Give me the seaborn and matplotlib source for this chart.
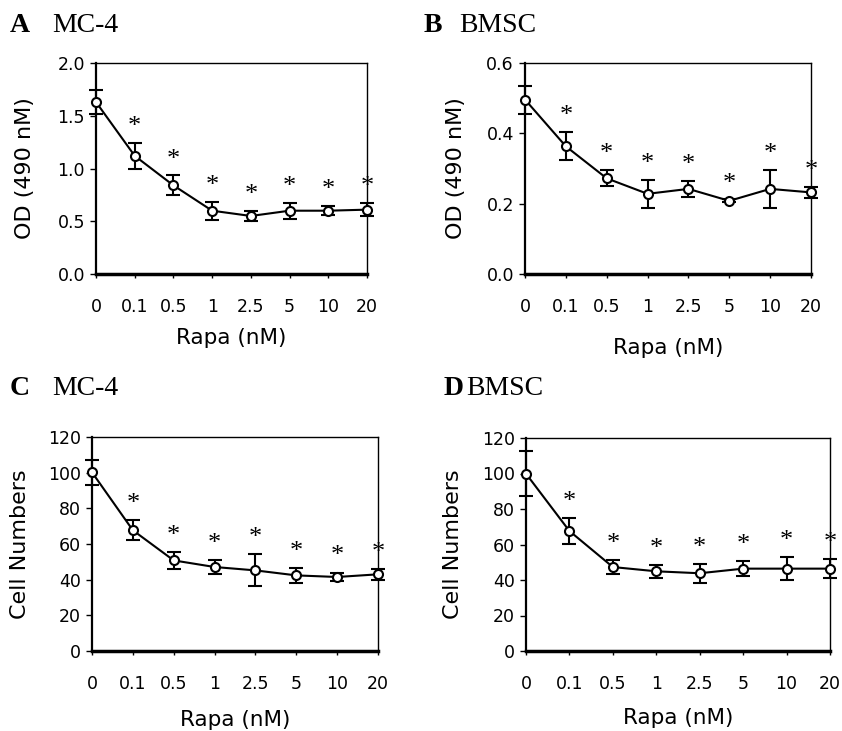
import numpy as np
import matplotlib
matplotlib.use("Agg")
import matplotlib.pyplot as plt
import seaborn as sns

# dose labels (categorical x axis)
doses = ["0", "0.1", "0.5", "1", "2.5", "5", "10", "20"]

# A: MC-4 OD
mc4_od = [1.63, 1.12, 0.84, 0.60, 0.55, 0.60, 0.60, 0.61]
mc4_od_err = [0.11, 0.125, 0.095, 0.085, 0.05, 0.075, 0.045, 0.06]
# B: BMSC OD
bmsc_od = [0.496, 0.363, 0.272, 0.228, 0.242, 0.208, 0.242, 0.232]
bmsc_od_err = [0.04, 0.04, 0.023, 0.039, 0.022, 0.004, 0.053, 0.015]
# C: MC-4 cell numbers
mc4_cells = [100.2, 67.7, 50.8, 47.1, 45.2, 42.4, 41.5, 43.0]
mc4_cells_err = [7.0, 5.6, 4.7, 4.0, 9.0, 4.3, 2.5, 3.2]
# D: BMSC cell numbers
bmsc_cells = [99.9, 67.6, 47.3, 44.9, 43.8, 46.4, 46.4, 46.4]
bmsc_cells_err = [12.8, 7.1, 4.2, 3.6, 5.4, 4.3, 6.4, 5.4]

sns.set_style("white")
plt.rcParams["font.family"] = ["DejaVu Sans"]
plt.rcParams.update({"text.color": "black", "axes.labelcolor": "black",
                     "xtick.color": "black", "ytick.color": "black"})

W, H = 842, 731
fig = plt.figure(figsize=(W / 100, H / 100), dpi=100)


def make_ax(l, r, t, b):
    return fig.add_axes([l / W, 1 - b / H, (r - l) / W, (b - t) / H])


# letter, name, data, err, ymax, ystep, fmt, ylabel, axes box (px),
# title pos (px), title gap, ylabel x (px), xlabel y (px)
panels = [
    ("A", "MC-4", mc4_od, mc4_od_err, 2.0, 0.5, "{:.1f}", "OD (490 nM)",
     (96, 367, 63, 274), (10, 25), 42, 25, 338),
    ("B", "BMSC", bmsc_od, bmsc_od_err, 0.6, 0.2, "{:.1f}", "OD (490 nM)",
     (525, 811, 63, 274), (424, 25), 35, 456, 348),
    ("C", "MC-4", mc4_cells, mc4_cells_err, 120, 20, "{:.0f}", "Cell Numbers",
     (92, 378, 437, 651), (10, 388), 42, 20, 720),
    ("D", "BMSC", bmsc_cells, bmsc_cells_err, 120, 20, "{:.0f}", "Cell Numbers",
     (526, 830, 438, 651), (444, 388), 22, 453, 718),
]

for letter, name, vals, errs, ymax, ystep, fmt, ylab, box, tpos, tgap, ylx, xly in panels:
    l, r, t, b = box
    ax = make_ax(l, r, t, b)
    x = np.arange(len(doses))
    ax.errorbar(x, vals, yerr=errs, fmt="none", ecolor="black", elinewidth=1.5,
                capsize=5, capthick=1.5, clip_on=False, zorder=3)
    sns.lineplot(x=x, y=vals, ax=ax, color="black", linewidth=1.5, marker="o",
                 markersize=6.5, markerfacecolor="white", markeredgecolor="black",
                 markeredgewidth=1.5, clip_on=False, zorder=4)
    # significance stars
    for xi, v, e in zip(x[1:], vals[1:], errs[1:]):
        ax.text(xi, v + e + 0.075 * ymax, "*", ha="center", va="center",
                fontsize=19, family="Liberation Serif", clip_on=False)
    ax.set_xlim(0, len(doses) - 1)
    ax.set_ylim(0, ymax)
    yt = np.arange(0, ymax + ystep / 2, ystep)
    ax.set_yticks(yt)
    ax.set_yticklabels([fmt.format(v) for v in yt])
    ax.set_xticks(x)
    ax.set_xticklabels(doses)
    ax.tick_params(axis="y", direction="out", length=4, width=1, pad=4,
                   labelsize=12.5, left=True)
    ax.tick_params(axis="x", direction="out", length=3, width=1, pad=14,
                   labelsize=12.5, bottom=True)
    for s in ["top", "right"]:
        ax.spines[s].set_linewidth(1.0)
        ax.spines[s].set_color("black")
    ax.spines["left"].set_linewidth(1.6)
    ax.spines["bottom"].set_linewidth(2.5)
    ax.spines["left"].set_color("black")
    ax.spines["bottom"].set_color("black")
    ax.set_ylabel(ylab, fontsize=16)
    ax.set_xlabel("Rapa (nM)", fontsize=15.5)
    # axis label positions in pixels
    ax.yaxis.set_label_coords((ylx - l) / (r - l), 0.5)
    ax.yaxis.label.set_verticalalignment("center")
    ax.xaxis.set_label_coords(0.5, (b - xly) / (b - t))
    ax.xaxis.label.set_verticalalignment("center")
    # panel titles
    fig.text(tpos[0] / W, 1 - tpos[1] / H, letter, fontsize=20, fontweight="bold",
             family="Liberation Serif", va="center", ha="left")
    fig.text((tpos[0] + tgap) / W, 1 - tpos[1] / H, name, fontsize=20,
             family="Liberation Serif", va="center", ha="left")

fig.savefig("out.png", dpi=100)
